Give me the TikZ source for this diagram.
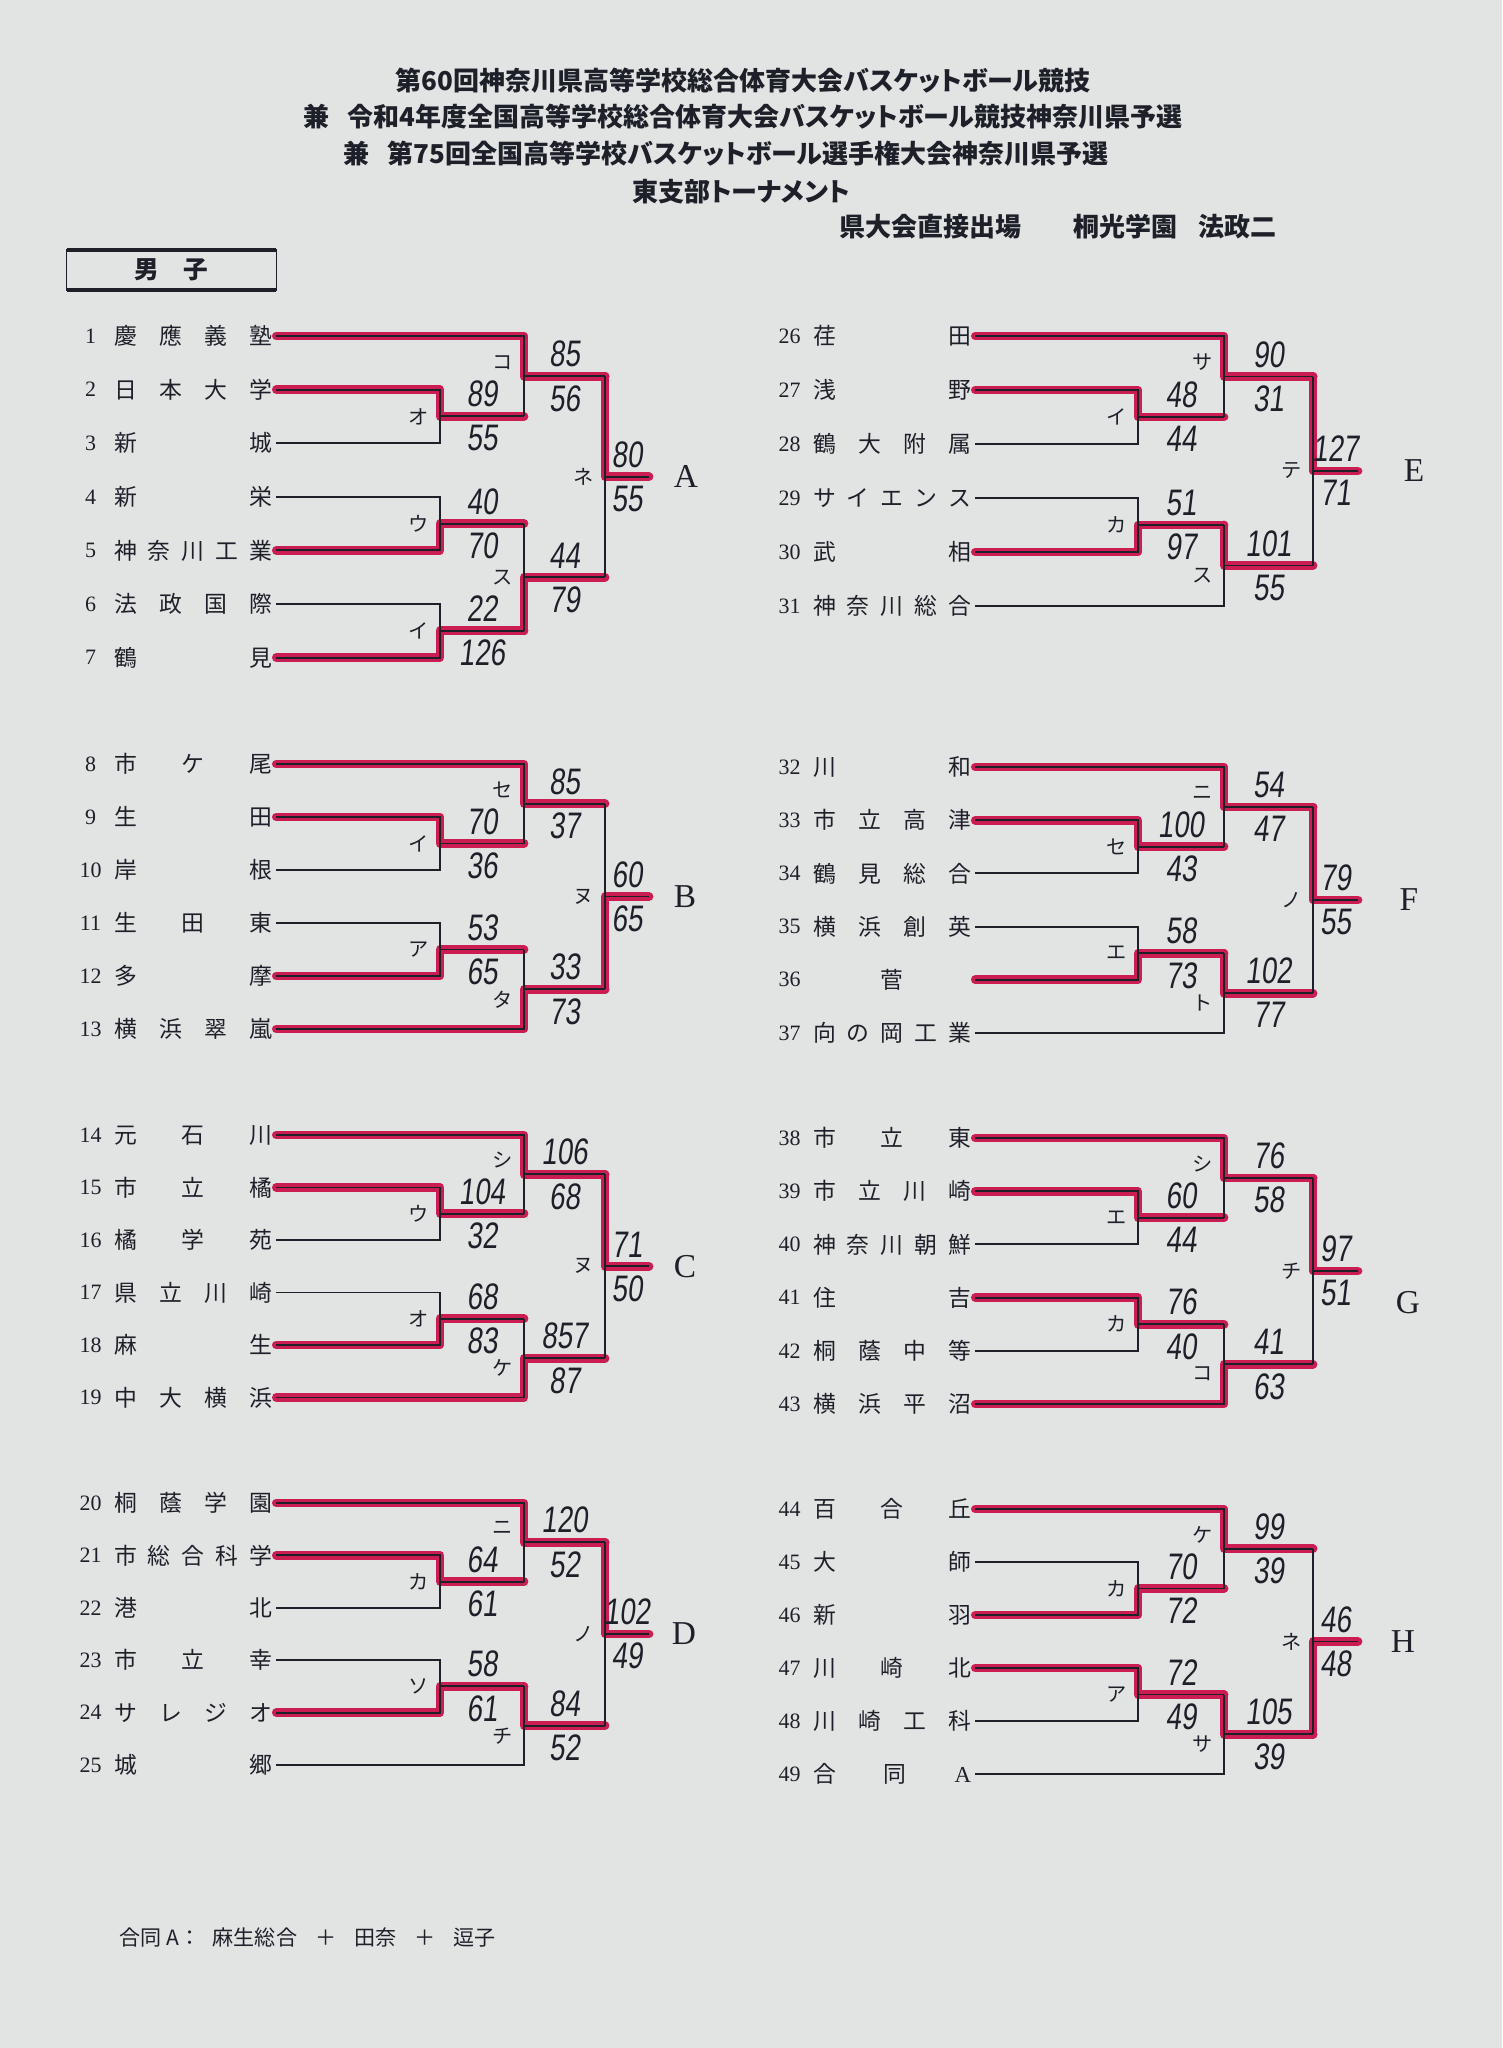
\documentclass[tikz,border=0pt]{standalone}
\usepackage{fontspec}
\usepackage{tikz}
\usetikzlibrary{calc}
\setmainfont{Liberation Serif}
\newfontfamily\jp{Noto Sans CJK JP}
\newfontfamily\jpt[RawFeature=+palt]{Noto Sans CJK JP}
\newfontfamily\hand[FakeStretch=0.75,FakeSlant=0.12]{Liberation Sans}
\definecolor{Paper}{HTML}{E1E4E3}
\definecolor{Ink}{HTML}{1E2029}
\definecolor{Marker}{HTML}{CB1D52}
\pgfdeclarelayer{paper}
\pgfdeclarelayer{marker}
\pgfsetlayers{paper,marker,main}
\newlength\namew
\setlength\namew{3.16cm}
% spread the characters of a school name over the whole name column
\newcommand\spread[1]{\makebox[\namew][s]{\hspace{0pt plus 1fil}\spreadA#1\stopspread\hspace{0pt plus 1fil}}}
\def\spreadA#1#2\stopspread{#1\ifx\relax#2\relax\else\hfill\spreadA#2\stopspread\fi}
\newcommand\latA{{\rmfamily A}}
\tikzset{num/.style={font=\fontsize{12.5}{12.5}\selectfont,text=Ink,inner sep=0pt},tname/.style={font=\jp\fontsize{13}{13}\selectfont,text=Ink,inner ysep=0pt,inner xsep=0.08cm},kana/.style={font=\jp\fontsize{11.5}{11.5}\selectfont,text=Ink,inner sep=0pt},kon/.style={},kup/.style={yshift=.28cm},kdn/.style={yshift=-.2cm},score/.style={font=\hand\fontsize{21}{21}\selectfont,text=Ink,inner sep=1pt},grp/.style={font=\fontsize{19}{19}\selectfont,text=Ink},wire/.style={draw=Ink,line width=1.1pt},win/.style={draw=Marker,line width=5pt,line cap=round,line join=round},ttl/.style={font=\jpt\bfseries\fontsize{14.8}{14.8}\selectfont,text=Ink,inner sep=0pt},foot/.style={font=\jp\fontsize{12}{12}\selectfont,text=Ink,inner sep=0pt},tag/.style={font=\jp\bfseries\fontsize{14}{14}\selectfont,text=Ink,minimum width=4.18cm,minimum height=0.8cm,inner sep=0pt}}
% #1 first number, #2 x of number, #3 y of first row, #4 row step, #5 names
\newcommand\teams[5]{%
  \foreach \nm [count=\row from 0] in {#5}{
    \pgfmathtruncatemacro\id{#1+\row}
    \node[num] (n\id) at (#2,{#3+\row*#4}) {\id};
    \node[tname] (t\id) at ({#2+102.5},{#3+\row*#4}) {\expandafter\spread\expandafter{\nm}};
  }}
% #1 match, #2 top, #3 bottom, #4 column, #5 kana place, #6 winner, #7 kana, #8/#9 scores
\newcommand\match[9]{%
  \draw[wire] (#2) -| (#4 |- #3) -- (#3);
  \coordinate (#1) at ($(#4 |- #2)!.5!(#4 |- #3)$);
  \draw[wire] (#1) -- (#1 -| #4n) coordinate (#1e);
  \node[kana,#5] at ([xshift=-.42cm]#1) {#7};
  \path (#1) -- (#1e) node[score,above=4pt,midway] {#8} node[score,below=4pt,midway] {#9};
  \begin{pgfonlayer}{marker}\draw[win] (#6) -| (#1) -- (#1e);\end{pgfonlayer}}

\begin{document}
\begin{tikzpicture}[x=0.02cm,y=-0.02cm]
  \begin{pgfonlayer}{paper}\fill[Paper] (0,0) rectangle (1502,2048);\end{pgfonlayer}
  \useasboundingbox (0,0) rectangle (1502,2048);

  \node[ttl] (hd1) at (743,81) {第60回神奈川県高等学校総合体育大会バスケットボール競技};
  \node[ttl] (hd2) at (743,117) {兼\hspace{.7em}令和4年度全国高等学校総合体育大会バスケットボール競技神奈川県予選};
  \node[ttl] (hd3) at (726,154) {兼\hspace{.7em}第75回全国高等学校バスケットボール選手権大会神奈川県予選};
  \node[ttl] (hd4) at (741,192) {東支部トーナメント};
  \node[ttl,anchor=east] (hd5) at (1277,227) {県大会直接出場\hspace{2em}桐光学園\hspace{.8em}法政二};

  \node[tag] (boys) at (171.5,270) {男\hspace{1em}子};
  \draw[Ink,line width=.8pt] (boys.north west) rectangle (boys.south east);
  \draw[Ink,line width=2.4pt] (boys.north west) -- (boys.north east) (boys.south west) -- (boys.south east);

  % bracket columns, each with the column that follows it
  \coordinate (L1) at (440,0); \coordinate (L2) at (524,0); \coordinate (L3) at (605,0);
  \coordinate (L1n) at (524,0); \coordinate (L2n) at (605,0); \coordinate (L3n) at (649,0);
  \coordinate (R1) at (1138,0); \coordinate (R2) at (1224,0); \coordinate (R3) at (1313,0);
  \coordinate (R1n) at (1224,0); \coordinate (R2n) at (1313,0); \coordinate (R3n) at (1358,0);

  \teams{1}{90.5}{336}{53.6}{慶應義塾,日本大学,新城,新栄,神奈川工業,法政国際,鶴見}
  \teams{8}{90.5}{764}{53}{市ケ尾,生田,岸根,生田東,多摩,横浜翠嵐}
  \teams{14}{90.5}{1135}{52.5}{元石川,市立橘,橘学苑,県立川崎,麻生,中大横浜}
  \teams{20}{90.5}{1503}{52.4}{桐蔭学園,市総合科学,港北,市立幸,サレジオ,城郷}
  \teams{26}{789.5}{336}{54}{荏田,浅野,鶴大附属,サイエンス,武相,神奈川総合}
  \teams{32}{789.5}{767}{53.2}{川和,市立高津,鶴見総合,横浜創英,菅,向の岡工業}
  \teams{38}{789.5}{1138}{53.2}{市立東,市立川崎,神奈川朝鮮,住吉,桐蔭中等,横浜平沼}
  \teams{44}{789.5}{1509}{53}{百合丘,大師,新羽,川崎北,川崎工科,合同\latA}

  % A
  \match{ao}{t2.east}{t3.east}{L1}{kon}{t2.east}{オ}{89}{55}
  \match{ako}{t1.east}{aoe}{L2}{kup}{t1.east}{コ}{85}{56}
  \match{au}{t4.east}{t5.east}{L1}{kon}{t5.east}{ウ}{40}{70}
  \match{ai}{t6.east}{t7.east}{L1}{kon}{t7.east}{イ}{22}{126}
  \match{asu}{aue}{aie}{L2}{kon}{aie}{ス}{44}{79}
  \match{ane}{akoe}{asue}{L3}{kon}{akoe}{ネ}{80}{55}
  \node[grp] (gA) at ([xshift=.74cm]anee) {A};
  % B
  \match{bi}{t9.east}{t10.east}{L1}{kon}{t9.east}{イ}{70}{36}
  \match{bse}{t8.east}{bie}{L2}{kup}{t8.east}{セ}{85}{37}
  \match{ba}{t11.east}{t12.east}{L1}{kon}{t12.east}{ア}{53}{65}
  \match{bta}{bae}{t13.east}{L2}{kdn}{t13.east}{タ}{33}{73}
  \match{bnu}{bsee}{btae}{L3}{kon}{btae}{ヌ}{60}{65}
  \node[grp] (gB) at ([xshift=.72cm]bnue) {B};
  % C
  \match{cu}{t15.east}{t16.east}{L1}{kon}{t15.east}{ウ}{104}{32}
  \match{cshi}{t14.east}{cue}{L2}{kup}{t14.east}{シ}{106}{68}
  \match{co}{t17.east}{t18.east}{L1}{kon}{t18.east}{オ}{68}{83}
  \match{cke}{coe}{t19.east}{L2}{kdn}{t19.east}{ケ}{857}{87}
  \match{cnu}{cshie}{ckee}{L3}{kon}{cshie}{ヌ}{71}{50}
  \node[grp] (gC) at ([xshift=.72cm]cnue) {C};
  % D
  \match{dka}{t21.east}{t22.east}{L1}{kon}{t21.east}{カ}{64}{61}
  \match{dni}{t20.east}{dkae}{L2}{kup}{t20.east}{ニ}{120}{52}
  \match{dso}{t23.east}{t24.east}{L1}{kon}{t24.east}{ソ}{58}{61}
  \match{dchi}{dsoe}{t25.east}{L2}{kdn}{dsoe}{チ}{84}{52}
  \match{dno}{dnie}{dchie}{L3}{kon}{dnie}{ノ}{102}{49}
  \node[grp] (gD) at ([xshift=.7cm]dnoe) {D};
  % E
  \match{ei}{t27.east}{t28.east}{R1}{kon}{t27.east}{イ}{48}{44}
  \match{esa}{t26.east}{eie}{R2}{kup}{t26.east}{サ}{90}{31}
  \match{eka}{t29.east}{t30.east}{R1}{kon}{t30.east}{カ}{51}{97}
  \match{esu}{ekae}{t31.east}{R2}{kdn}{ekae}{ス}{101}{55}
  \match{ete}{esae}{esue}{R3}{kon}{esae}{テ}{127}{71}
  \node[grp] (gE) at ([xshift=1.12cm]etee) {E};
  % F
  \match{fse}{t33.east}{t34.east}{R1}{kon}{t33.east}{セ}{100}{43}
  \match{fni}{t32.east}{fsee}{R2}{kup}{t32.east}{ニ}{54}{47}
  \match{fe}{t35.east}{t36.east}{R1}{kon}{t36.east}{エ}{58}{73}
  \match{fto}{fee}{t37.east}{R2}{kdn}{fee}{ト}{102}{77}
  \match{fno}{fnie}{ftoe}{R3}{kon}{fnie}{ノ}{79}{55}
  \node[grp] (gF) at ([xshift=1.02cm]fnoe) {F};
  % G
  \match{ge}{t39.east}{t40.east}{R1}{kon}{t39.east}{エ}{60}{44}
  \match{gshi}{t38.east}{gee}{R2}{kup}{t38.east}{シ}{76}{58}
  \match{gka}{t41.east}{t42.east}{R1}{kon}{t41.east}{カ}{76}{40}
  \match{gko}{gkae}{t43.east}{R2}{kdn}{t43.east}{コ}{41}{63}
  \match{gchi}{gshie}{gkoe}{R3}{kon}{gshie}{チ}{97}{51}
  \node[grp] (gG) at ([xshift=1cm,yshift=-.64cm]gchie) {G};
  % H
  \match{hka}{t45.east}{t46.east}{R1}{kon}{t46.east}{カ}{70}{72}
  \match{hke}{t44.east}{hkae}{R2}{kup}{t44.east}{ケ}{99}{39}
  \match{ha}{t47.east}{t48.east}{R1}{kon}{t47.east}{ア}{72}{49}
  \match{hsa}{hae}{t49.east}{R2}{kdn}{hae}{サ}{105}{39}
  \match{hne}{hkee}{hsae}{R3}{kon}{hsae}{ネ}{46}{48}
  \node[grp] (gH) at ([xshift=.9cm]hnee) {H};

  \node[foot,anchor=west] (note) at (119,1937) {合同 A：\hspace{.6em}麻生総合\hspace{.85em}＋\hspace{.85em}田奈\hspace{.85em}＋\hspace{.85em}逗子};
\end{tikzpicture}
\end{document}
